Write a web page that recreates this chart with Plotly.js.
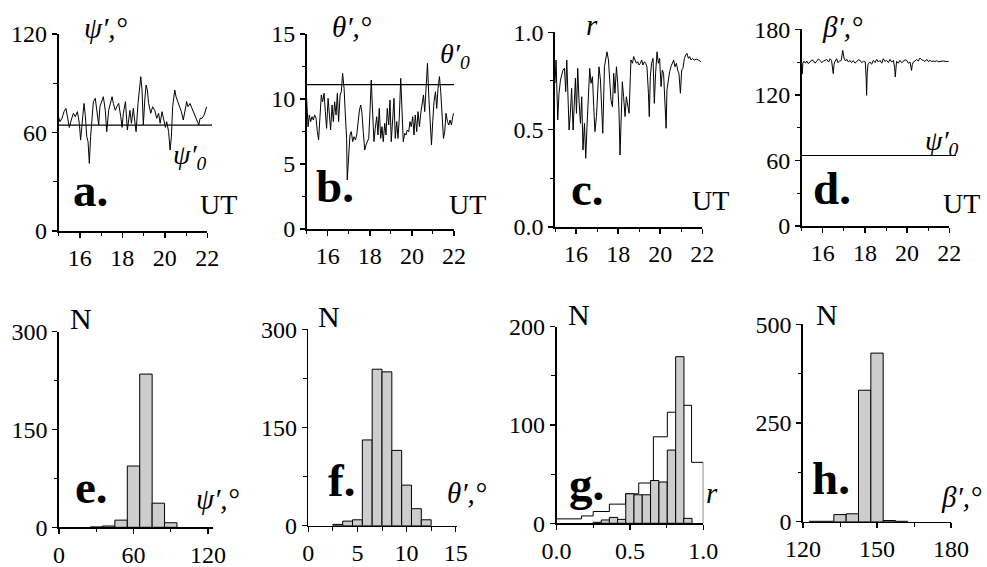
<!DOCTYPE html>
<html>
<head>
<meta charset="utf-8">
<script src="https://cdn.plot.ly/plotly-3.0.1.min.js"></script>
<style>html,body{margin:0;padding:0;background:#fff;}#plot{width:987px;height:567px;}</style>
</head>
<body>
<div id="plot"></div>
<script>
// ---------- DATA ----------
// a. psi' vs UT
const tA = [15.0,15.07,15.16,15.26,15.35,15.45,15.51,15.6,15.7,15.79,15.89,15.98,16.04,16.14,16.2,16.26,16.33,16.39,16.45,16.51,16.58,16.64,16.73,16.83,16.89,16.95,17.05,17.11,17.2,17.27,17.36,17.46,17.52,17.58,17.67,17.74,17.83,17.93,17.99,18.05,18.15,18.24,18.3,18.36,18.43,18.52,18.58,18.65,18.74,18.8,18.87,18.93,18.99,19.06,19.12,19.18,19.24,19.34,19.43,19.53,19.62,19.71,19.78,19.87,19.93,20.03,20.09,20.18,20.25,20.31,20.37,20.47,20.53,20.62,20.72,20.78,20.87,20.94,21.03,21.09,21.19,21.28,21.38,21.44,21.53,21.6,21.66,21.75,21.85,21.97];
const psiA = [69.6,66.6,68.6,72.7,74.7,68.6,63.1,67.6,71.7,69.6,72.7,65.6,55.4,69.6,77.7,70.6,57.4,54.4,41.2,57.4,67.6,78.8,80.8,71.7,64.6,75.7,78.8,81.8,73.5,60.5,73.5,79.8,81.8,77.7,73.5,75.7,77.7,69.6,63.1,71.7,78.8,61.5,69.6,73.5,65.6,74.7,67.6,60.5,77.7,85.9,94,85.9,64.6,79.8,88.9,85.9,77.7,71.7,75.7,73.5,68.6,71.7,65.6,72.7,69.6,63.1,66.6,60.5,49.3,57.4,75.7,85.9,81.8,78.8,75.7,72.7,67.6,73.5,78.8,75.7,77.7,74.7,71.7,69.6,67.6,64.6,68.6,68.6,70.6,75.7];
const psi0 = 64.5;

// b. theta' vs UT
const tB = [15.0,15.07,15.13,15.19,15.26,15.32,15.38,15.45,15.51,15.57,15.64,15.7,15.76,15.83,15.89,15.95,16.02,16.08,16.14,16.21,16.27,16.33,16.4,16.46,16.52,16.59,16.65,16.71,16.78,16.84,16.9,16.93,17.0,17.06,17.12,17.19,17.25,17.32,17.38,17.44,17.51,17.57,17.63,17.69,17.76,17.82,17.88,17.95,18.01,18.07,18.14,18.2,18.26,18.33,18.39,18.45,18.52,18.58,18.64,18.71,18.77,18.83,18.9,18.96,19.02,19.09,19.15,19.21,19.28,19.34,19.4,19.47,19.53,19.59,19.66,19.72,19.78,19.85,19.91,19.97,20.04,20.1,20.16,20.23,20.29,20.36,20.42,20.48,20.55,20.61,20.67,20.74,20.8,20.86,20.93,20.99,21.05,21.12,21.18,21.24,21.31,21.37,21.43,21.5,21.56,21.62,21.69,21.75,21.81,21.88,21.94,21.98];
const thetaB = [10.05,7.87,8.77,8.26,8.64,8.38,8.77,8.51,7.49,6.85,8.77,10.31,9.79,10.44,9.03,7.74,10.05,8.77,7.62,9.54,8.26,9.79,8.77,10.44,8.26,10.31,10.56,11.97,10.82,8.77,6.97,3.77,6.21,7.23,7.49,6.72,7.1,6.85,7.23,8.26,9.15,9.54,8.9,7.49,6.08,6.46,6.72,6.97,9.03,11.46,8.77,6.72,7.74,8.64,7.23,9.28,6.97,7.87,6.72,8.13,7.23,9.28,8.0,9.92,6.72,8.77,10.05,6.97,8.26,6.97,8.51,11.59,8.26,6.72,7.36,7.23,7.62,7.49,8.26,7.87,8.64,7.23,8.77,7.49,9.03,7.87,8.9,9.79,10.31,9.03,10.69,12.74,10.31,8.0,6.46,8.26,9.79,10.56,9.28,10.82,11.72,10.56,9.15,6.97,7.49,8.9,8.26,8.0,8.38,8.0,8.64,8.9];
const theta0 = 11.1;

// c. r vs UT
const tC = [15.0,15.05,15.13,15.19,15.26,15.32,15.38,15.45,15.51,15.56,15.6,15.67,15.73,15.79,15.86,15.92,15.97,16.02,16.08,16.14,16.21,16.27,16.33,16.4,16.46,16.52,16.59,16.65,16.71,16.78,16.84,16.9,16.97,17.03,17.09,17.16,17.22,17.27,17.35,17.41,17.47,17.54,17.6,17.66,17.73,17.79,17.85,17.92,17.98,18.04,18.09,18.14,18.2,18.26,18.33,18.39,18.45,18.52,18.58,18.61,18.68,18.74,18.8,18.87,18.93,18.99,19.06,19.12,19.18,19.25,19.31,19.37,19.44,19.48,19.53,19.59,19.66,19.72,19.78,19.85,19.91,19.97,20.04,20.1,20.16,20.23,20.28,20.32,20.39,20.45,20.51,20.58,20.64,20.7,20.77,20.83,20.89,20.96,21.02,21.08,21.15,21.21,21.27,21.34,21.4,21.46,21.53,21.62,21.72,21.81,21.94];
const rC = [0.738,0.858,0.55,0.687,0.755,0.789,0.806,0.815,0.695,0.858,0.738,0.498,0.584,0.712,0.498,0.618,0.764,0.584,0.815,0.652,0.532,0.669,0.395,0.532,0.353,0.515,0.721,0.815,0.738,0.772,0.618,0.49,0.567,0.669,0.823,0.755,0.618,0.481,0.823,0.858,0.9,0.858,0.738,0.652,0.618,0.789,0.687,0.823,0.738,0.601,0.37,0.567,0.746,0.669,0.567,0.669,0.618,0.584,0.772,0.858,0.841,0.875,0.858,0.841,0.849,0.832,0.841,0.858,0.832,0.849,0.841,0.823,0.687,0.567,0.772,0.841,0.866,0.635,0.789,0.9,0.841,0.866,0.721,0.806,0.789,0.652,0.507,0.704,0.772,0.798,0.823,0.841,0.858,0.823,0.841,0.806,0.789,0.687,0.806,0.815,0.866,0.883,0.892,0.866,0.875,0.858,0.866,0.858,0.862,0.858,0.849];

// d. beta' vs UT
const tD = [15.0,15.03,15.06,15.11,15.18,15.24,15.32,15.4,15.48,15.56,15.64,15.71,15.8,15.87,15.95,16.03,16.11,16.19,16.28,16.35,16.42,16.46,16.5,16.54,16.57,16.66,16.72,16.79,16.88,16.95,17.01,17.08,17.14,17.22,17.29,17.37,17.45,17.53,17.61,17.69,17.77,17.85,17.93,18.02,18.06,18.08,18.11,18.15,18.24,18.32,18.4,18.48,18.56,18.64,18.72,18.8,18.87,18.95,19.03,19.11,19.19,19.27,19.35,19.41,19.44,19.47,19.5,19.58,19.66,19.74,19.82,19.9,19.98,20.06,20.14,20.21,20.25,20.3,20.38,20.45,20.53,20.61,20.69,20.77,20.85,20.93,21.01,21.09,21.17,21.24,21.32,21.4,21.48,21.56,21.64,21.72,21.85,21.97];
const betaD = [150,139,149,150.7,149,151,148.5,150.1,152,151.3,149,150.7,153,151.6,149.5,150.7,152,152.5,150.1,153.1,151.6,145,139.4,148,150.1,153.1,149.5,150.7,151.6,160.7,153.7,151,152.5,150,151.6,149.5,151.3,149,150.7,152,151.6,149.5,150.7,150.1,135,119.6,140,148.5,150.1,148,151.6,149.5,152.5,150,151.6,149,153.1,150.5,151.6,149.5,152.5,150,151.6,145,136.3,146,150.7,149,151.6,149.5,150.7,152,151.6,149,150.1,142.4,148,150.1,151,152.5,151,153.7,152,151.6,150.5,152.5,150.5,151.6,150.5,151,150.5,151.3,150.3,150.7,150.5,151,150.5,150.7];

// e. histogram psi'
const eCenters = [30,40,50,60,70,80,90];
const eCounts  = [0.5,2,11,94,235,37,7];
const eWidth = 10;
// f. histogram theta'
const fCenters = [3,4,5,6,7,8,9,10,11,12];
const fCounts  = [2,7,9,131,239,235,115,62,26,9];
const fWidth = 1;
// g. histogram r (filled) and outline histogram
const gCenters = [0.278,0.333,0.388,0.444,0.5,0.556,0.612,0.669,0.726,0.783,0.84,0.895];
const gCounts  = [1,3.4,6,4,30,29,29,43.5,42,74.5,169.5,5];
const gWidth = 0.0565;
const gOutEdges  = [0,0.17,0.25,0.36,0.47,0.56,0.66,0.755,0.865,0.92,1.0];
const gOutCounts = [4.5,7.5,12,19.5,30,41,88,113,120,62,0];
// h. histogram beta'
const hCenters = [125,130,135,140,145,150,155,160];
const hCounts  = [1,1,18,20,333,427,3,1];
const hWidth = 5;

// ticks
const utTicks = [16,18,20,22];
const utMinor = [15,17,19,21];
const psiTicks = [0,60,120];   const psiMinor = [30,90];
const thTicks = [0,5,10,15];   const thMinor = [2.5,7.5,12.5];
const rTicks = [0,0.5,1.0];    const rMinor = [0.25,0.75];
const beTicks = [0,60,120,180];const beMinor = [30,90,150];
const eTicks = [0,150,300];    const eMinor = [75,225];
const fTicks = [0,150,300];    const fMinor = [75,225];
const gTicks = [0,100,200];    const gMinor = [50,150];
const hTicks = [0,250,500];    const hMinor = [125,375];
const exTicks = [0,60,120];    const exMinor = [30,90];
const fxTicks = [0,5,10,15];   const fxMinor = [2.5,7.5,12.5];
const gxTicks = [0,0.5,1.0];   const gxMinor = [0.25,0.75];
const hxTicks = [120,150,180]; const hxMinor = [135,165];

// ---------- LAYOUT HELPERS ----------
const W = 987, H = 567;
const FONT = '"Liberation Serif", "Times New Roman", Times, serif';
const px = p => p / W;
const py = p => 1 - p / H;

function axis(domain, range, tv, minor, fmt, extra) {
  return Object.assign({
    domain: domain, range: range, tickmode: 'array', tickvals: tv,
    ticktext: tv.map(v => fmt ? v.toFixed(fmt) : String(v)),
    showline: true, linecolor: 'black', linewidth: 1.6,
    ticks: 'outside', ticklen: 5, tickwidth: 1.5, tickcolor: 'black',
    minor: {tickvals: minor, ticks: 'outside', ticklen: 3.5, tickwidth: 1, tickcolor: 'black'},
    showgrid: false, zeroline: false, fixedrange: true,
    tickfont: {family: FONT, size: 24, color: 'black'}
  }, extra || {});
}

const lineStyle = {color: 'black', width: 1};
const barStyle = {color: '#cdcdcd', line: {color: 'black', width: 1}};

const data = [
  {type:'scatter', mode:'lines', x:tA, y:psiA, xaxis:'x', yaxis:'y', line:lineStyle},
  {type:'scatter', mode:'lines', x:tB, y:thetaB, xaxis:'x2', yaxis:'y2', line:lineStyle},
  {type:'scatter', mode:'lines', x:tC, y:rC, xaxis:'x3', yaxis:'y3', line:lineStyle},
  {type:'scatter', mode:'lines', x:tD, y:betaD, xaxis:'x4', yaxis:'y4', line:lineStyle},
  {type:'bar', x:eCenters, y:eCounts, width:eWidth, xaxis:'x5', yaxis:'y5', marker:barStyle},
  {type:'bar', x:fCenters, y:fCounts, width:fWidth, xaxis:'x6', yaxis:'y6', marker:barStyle},
  {type:'scatter', mode:'lines', x:gOutEdges, y:gOutCounts, line:{color:'black', width:1, shape:'hv'}, xaxis:'x7', yaxis:'y7'},
  {type:'bar', x:gCenters, y:gCounts, width:gWidth, xaxis:'x9', yaxis:'y9', marker:barStyle},
  {type:'bar', x:hCenters, y:hCounts, width:hWidth, xaxis:'x8', yaxis:'y8', marker:barStyle}
];

const dA = {x:[px(58.5), px(207.3)], y:[py(231), py(34)]};
const dB = {x:[px(306.6), px(454)], y:[py(229), py(34)]};
const dC = {x:[px(555), px(702.3)], y:[py(227), py(32.3)]};
const dD = {x:[px(801.6), px(949.3)], y:[py(226), py(29.3)]};
const dE = {x:[px(59), px(213)], y:[py(527.3), py(331.7)]};
const dF = {x:[px(308.3), px(456.7)], y:[py(525.7), py(329.3)]};
const dG = {x:[px(556.5), px(703.3)], y:[py(523.3), py(326.7)]};
const dH = {x:[px(803), px(951)], y:[py(521.7), py(324.3)]};

const layout = {
  width: W, height: H, margin: {l:0, r:0, t:0, b:0},
  font: {family: FONT, size: 23, color: 'black'},
  paper_bgcolor: 'white', plot_bgcolor: 'rgba(0,0,0,0)',
  showlegend: false, barmode: 'overlay',
  xaxis:  axis(dA.x, [15,22], utTicks, utMinor, 0, {anchor:'y'}),
  yaxis:  axis(dA.y, [0,120], psiTicks, psiMinor, 0, {anchor:'x'}),
  xaxis2: axis(dB.x, [15,22], utTicks, utMinor, 0, {anchor:'y2'}),
  yaxis2: axis(dB.y, [0,15], thTicks, thMinor, 0, {anchor:'x2'}),
  xaxis3: axis(dC.x, [15,22], utTicks, utMinor, 0, {anchor:'y3'}),
  yaxis3: axis(dC.y, [0,1], rTicks, rMinor, 1, {anchor:'x3'}),
  xaxis4: axis(dD.x, [15,22], utTicks, utMinor, 0, {anchor:'y4'}),
  yaxis4: axis(dD.y, [0,180], beTicks, beMinor, 0, {anchor:'x4'}),
  xaxis5: axis(dE.x, [0,124], exTicks, exMinor, 0, {anchor:'y5'}),
  yaxis5: axis(dE.y, [0,300], eTicks, eMinor, 0, {anchor:'x5'}),
  xaxis6: axis(dF.x, [0,15.1], fxTicks, fxMinor, 0, {anchor:'y6'}),
  yaxis6: axis(dF.y, [0,300], fTicks, fMinor, 0, {anchor:'x6'}),
  xaxis7: axis(dG.x, [0,1], gxTicks, gxMinor, 1, {anchor:'y7'}),
  yaxis7: axis(dG.y, [0,200], gTicks, gMinor, 0, {anchor:'x7'}),
  xaxis8: axis(dH.x, [120,180], hxTicks, hxMinor, 0, {anchor:'y8'}),
  yaxis8: axis(dH.y, [0,500], hTicks, hMinor, 0, {anchor:'x8'}),
  xaxis9: {domain: dG.x, range:[0,1], overlaying:'x7', anchor:'y9', visible:false, fixedrange:true},
  yaxis9: {domain: dG.y, range:[0,200], overlaying:'y7', anchor:'x9', visible:false, fixedrange:true},
  shapes: [
    {type:'line', xref:'paper', yref:'y', x0:px(58.5), x1:px(212), y0:psi0, y1:psi0, line:{color:'black', width:1.2}},
    {type:'line', xref:'paper', yref:'y2', x0:px(306.6), x1:px(454), y0:theta0, y1:theta0, line:{color:'black', width:1.2}},
    {type:'line', xref:'paper', yref:'y4', x0:px(801.6), x1:px(956), y0:psi0, y1:psi0, line:{color:'black', width:1.2}}
  ],
  annotations: []
};

function ann(text, x, y, size) {
  layout.annotations.push({text:text, xref:'paper', yref:'paper', x:px(x), y:py(y),
    xanchor:'center', yanchor:'middle', showarrow:false,
    font:{family:FONT, size:size, color:'black'}});
}
// top row
ann('<i>ψ′,°</i>', 106, 28, 29);
ann('<i>ψ′<sub>0</sub></i>', 190, 157, 28);
ann('<b>a.</b>', 90, 190, 47);
ann('UT', 218, 204, 28);
ann('<i>θ′,°</i>', 352, 27, 29);
ann('<i>θ′<sub>0</sub></i>', 455, 55, 28);
ann('<b>b.</b>', 335, 186, 47);
ann('UT', 467, 204, 28);
ann('<i>r</i>', 592, 25, 29);
ann('<b>c.</b>', 587, 189, 47);
ann('UT', 710, 201, 28);
ann('<i>β′,°</i>', 842, 27, 29);
ann('<i>ψ′<sub>0</sub></i>', 942, 142, 28);
ann('<b>d.</b>', 832, 188, 47);
ann('UT', 961, 203, 28);
// bottom row
ann('N', 81, 318, 30);
ann('N', 329, 316, 30);
ann('N', 579, 314, 30);
ann('N', 827, 314, 30);
ann('<b>e.</b>', 91, 487, 47);
ann('<b>f.</b>', 341, 480, 47);
ann('<b>g.</b>', 586, 484, 47);
ann('<b>h.</b>', 831, 478, 47);
ann('<i>ψ′,°</i>', 218, 499, 29);
ann('<i>θ′,°</i>', 467, 493, 29);
ann('<i>r</i>', 712, 493, 29);
ann('<i>β′,°</i>', 961, 497, 29);

Plotly.newPlot('plot', data, layout, {staticPlot: true, displayModeBar: false});
</script>
</body>
</html>
